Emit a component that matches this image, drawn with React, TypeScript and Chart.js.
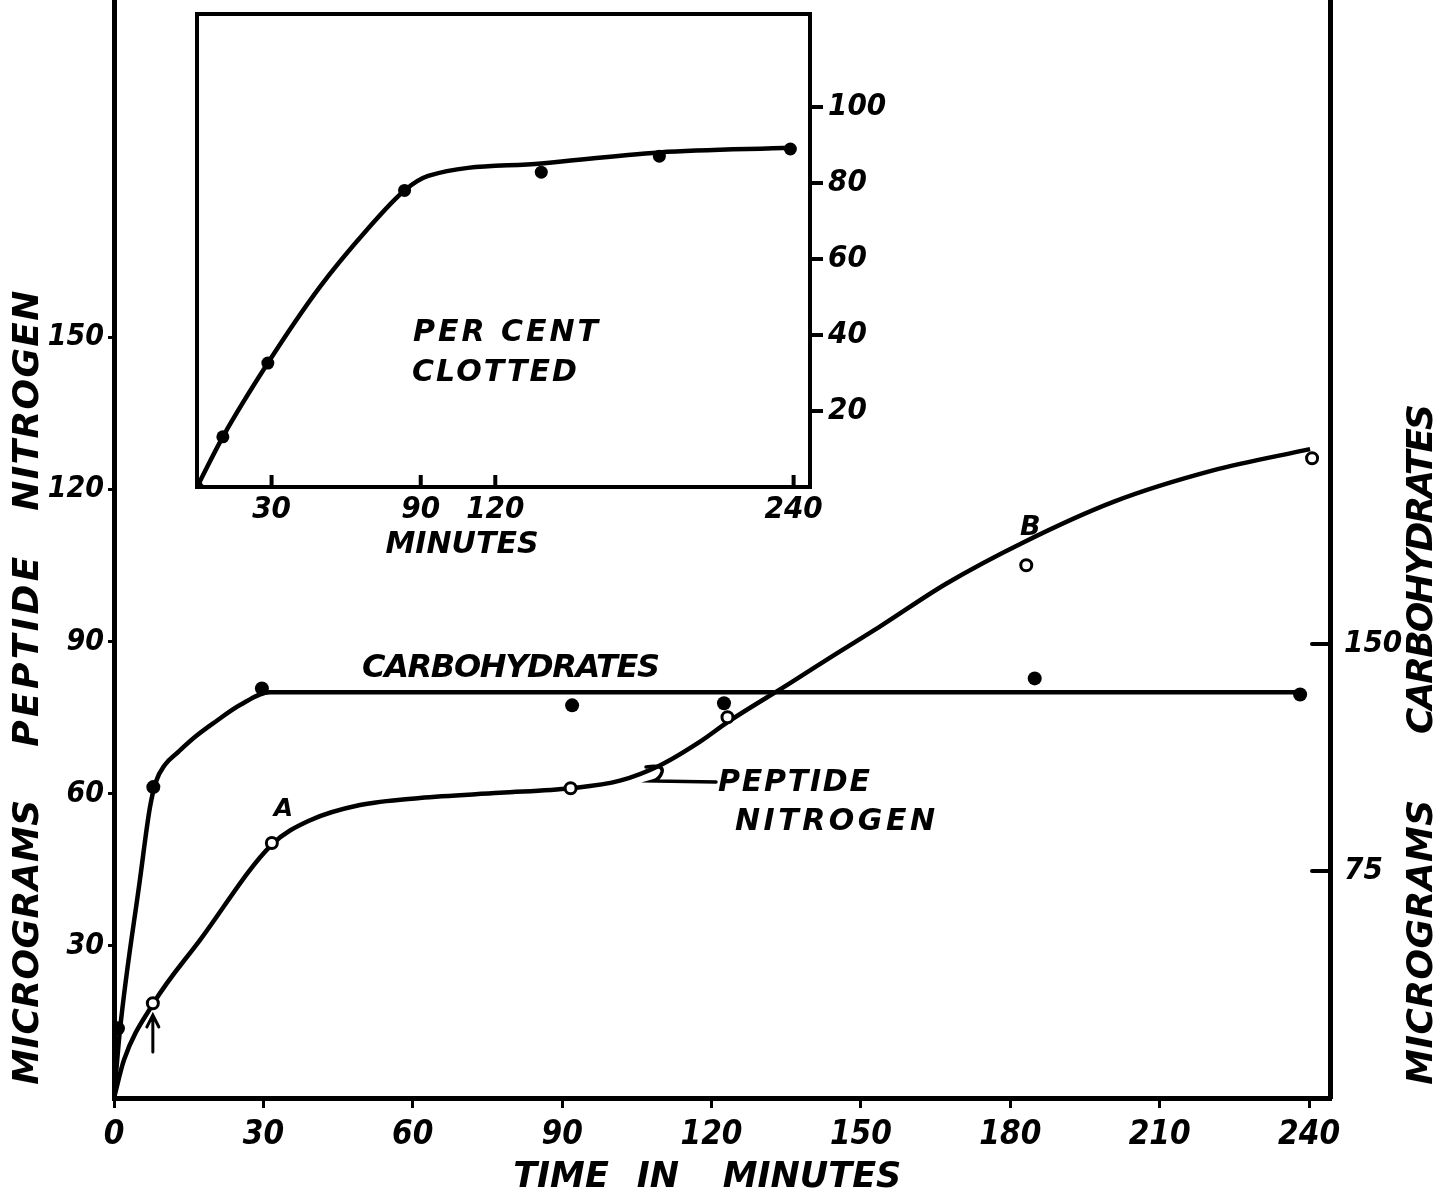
import { useEffect, useRef } from 'react';
import { Chart, registerables } from 'chart.js';

Chart.register(...registerables);

// ---------- Main chart data ----------
const timeTicks = [0, 30, 60, 90, 120, 150, 180, 210, 240];
const nitrogenTicks = [30, 60, 90, 120, 150];
const carbohydrateTicks = [75, 150];

// Peptide nitrogen (open circles), micrograms, left axis
const peptidePointTimes = [7.8, 31.7, 91.7, 123.2, 183.2, 240.6];
const peptidePointValues = [18.7, 50.3, 61.1, 75.1, 105.1, 126.2];
// Peptide nitrogen drawn curve
const peptideCurveTimes = [0, 2, 7.8, 17.3, 31.7, 39.4, 49.4, 61.4, 77.5, 91.7, 101.6, 109.6, 117.7, 123.3, 135.7, 145, 153.8, 167.2, 182.6, 200.7, 220.7, 240.2];
const peptideCurveValues = [0, 7.5, 18.5, 31.2, 50, 54.8, 57.8, 59.2, 60.2, 61.1, 62.6, 65.6, 70.3, 74.2, 81.8, 87.6, 93, 101.5, 109.6, 117.6, 123.8, 128];

// Carbohydrates (filled dots), micrograms, right axis
const carbPointTimes = [0.8, 7.9, 29.7, 92, 122.5, 184.9, 238.2];
const carbPointValues = [23, 102.7, 135.3, 129.7, 130.4, 138.6, 133.3];
// Carbohydrates drawn curve
const carbCurveTimes = [0, 1.2, 5.2, 7.2, 8.4, 10.2, 12.9, 16.3, 20.3, 25.3, 31.3, 238];
const carbCurveValues = [0, 22.5, 72, 95.8, 104.4, 110, 114.3, 119.3, 124.2, 129.8, 134, 134];

// ---------- Inset (per cent clotted) data ----------
const clotTicksX = [30, 90, 120, 240];
const clotTicksY = [20, 40, 60, 80, 100];
const clotPointTimes = [0, 10.4, 28.5, 83.5, 138.5, 186, 238.7];
const clotPointValues = [0, 13.2, 32.6, 78, 82.8, 87, 88.9];
const clotCurveTimes = [0, 10.4, 28.5, 49.3, 68.3, 83.5, 93, 138.5, 186, 239];
const clotCurveValues = [0, 13.2, 32.6, 52.5, 67.6, 78, 81.8, 85.1, 88, 89.2];

const FAMILY = "'DejaVu Sans', sans-serif";
const TICK_FAMILY = "'DejaVu Sans Condensed', 'DejaVu Sans', sans-serif";
const tickFont = (size: number) => ({ family: TICK_FAMILY, size, style: 'italic' as const, weight: 'bold' as const });

const zip = (xs: number[], ys: number[]) => xs.map((x, i) => ({ x, y: ys[i] }));

function noPad(s: any) {
  s.paddingTop = 0;
  s.paddingBottom = 0;
  s.paddingLeft = 0;
  s.paddingRight = 0;
}

function setFont(ctx: CanvasRenderingContext2D, size: number) {
  ctx.font = `italic bold ${size}px ${FAMILY}`;
}

function fitText(ctx: CanvasRenderingContext2D, text: string, size: number, width?: number) {
  setFont(ctx, size);
  (ctx as any).letterSpacing = '0px';
  if (width) {
    const w = ctx.measureText(text).width;
    const ls = (width - w) / Math.max(1, text.length - 1);
    (ctx as any).letterSpacing = `${ls}px`;
  }
}

function textLeft(ctx: CanvasRenderingContext2D, text: string, left: number, cy: number, size: number, width?: number) {
  ctx.save();
  fitText(ctx, text, size, width);
  ctx.textAlign = 'left';
  ctx.textBaseline = 'middle';
  ctx.fillText(text, left, cy);
  ctx.restore();
}

function textCenter(ctx: CanvasRenderingContext2D, text: string, cx: number, cy: number, size: number) {
  ctx.save();
  setFont(ctx, size);
  ctx.textAlign = 'center';
  ctx.textBaseline = 'middle';
  ctx.fillText(text, cx, cy);
  ctx.restore();
}

function textVertical(ctx: CanvasRenderingContext2D, text: string, cx: number, cy: number, size: number, width?: number) {
  ctx.save();
  ctx.translate(cx, cy);
  ctx.rotate(-Math.PI / 2);
  fitText(ctx, text, size, width);
  ctx.textAlign = 'center';
  ctx.textBaseline = 'middle';
  ctx.fillText(text, 0, 0);
  ctx.restore();
}

const mainDecor = {
  id: 'mainDecor',
  afterDraw(chart: any) {
    const { ctx, chartArea, scales } = chart;
    const x = scales.x;
    const y = scales.y;
    const y1 = scales.y1;
    ctx.save();
    ctx.fillStyle = '#000';
    ctx.strokeStyle = '#000';
    ctx.lineCap = 'round';

    // inward ticks on the carbohydrate axis
    ctx.lineWidth = 4;
    carbohydrateTicks.forEach((v) => {
      const py = y1.getPixelForValue(v);
      ctx.beginPath();
      ctx.moveTo(chartArea.right - 18, py);
      ctx.lineTo(chartArea.right, py);
      ctx.stroke();
    });

    // axis titles
    textVertical(ctx, 'MICROGRAMS', 29, 942, 36, 285);
    textVertical(ctx, 'PEPTIDE', 29, 650, 36, 190);
    textVertical(ctx, 'NITROGEN', 29, 400, 36, 220);
    textVertical(ctx, 'MICROGRAMS', 1423, 942, 36, 285);
    textVertical(ctx, 'CARBOHYDRATES', 1423, 570, 36, 330);
    textCenter(ctx, 'TIME', 561, 1178, 35);
    textCenter(ctx, 'IN', 658, 1178, 35);
    textCenter(ctx, 'MINUTES', 812, 1178, 35);

    // series labels
    textLeft(ctx, 'CARBOHYDRATES', 362, y1.getPixelForValue(134) - 24, 32, 298);
    textLeft(ctx, 'PEPTIDE', 718, 783, 30, 152);
    textLeft(ctx, 'NITROGEN', 735, 822, 30, 200);

    // A and B markers
    textCenter(ctx, 'A', x.getPixelForValue(34), y.getPixelForValue(50.3) - 34, 25);
    textCenter(ctx, 'B', x.getPixelForValue(184), y.getPixelForValue(105.1) - 37, 27);

    // leader for PEPTIDE NITROGEN
    ctx.lineWidth = 3.5;
    ctx.beginPath();
    ctx.moveTo(646, 767);
    ctx.quadraticCurveTo(664, 764, 662, 772);
    ctx.quadraticCurveTo(660, 779, 653, 781);
    ctx.lineTo(716, 782);
    ctx.stroke();

    // arrow under first peptide point
    const ax = x.getPixelForValue(peptidePointTimes[0]);
    ctx.lineWidth = 3;
    ctx.beginPath();
    ctx.moveTo(ax, 1052);
    ctx.lineTo(ax, 1016);
    ctx.moveTo(ax - 6, 1027);
    ctx.lineTo(ax, 1015);
    ctx.lineTo(ax + 6, 1027);
    ctx.stroke();

    ctx.restore();
  },
};

const insetDecor = {
  id: 'insetDecor',
  afterDraw(chart: any) {
    const { ctx, chartArea, scales } = chart;
    const x = scales.x;
    ctx.save();
    ctx.strokeStyle = '#000';
    ctx.fillStyle = '#000';
    ctx.lineWidth = 4;
    ctx.lineCap = 'square';
    ctx.beginPath();
    ctx.moveTo(chartArea.left, chartArea.bottom);
    ctx.lineTo(chartArea.left, chartArea.top);
    ctx.lineTo(chartArea.right, chartArea.top);
    ctx.stroke();
    ctx.lineCap = 'butt';
    clotTicksX.forEach((v) => {
      const px = x.getPixelForValue(v);
      ctx.beginPath();
      ctx.moveTo(px, chartArea.bottom);
      ctx.lineTo(px, chartArea.bottom - 12);
      ctx.stroke();
    });
    textCenter(ctx, 'MINUTES', 312, 545, 30);
    textLeft(ctx, 'PER CENT', 263, 333, 30, 185);
    textLeft(ctx, 'CLOTTED', 262, 373, 30, 165);
    ctx.restore();
  },
};

export default function App() {
  const mainRef = useRef<HTMLCanvasElement>(null);
  const insetRef = useRef<HTMLCanvasElement>(null);

  useEffect(() => {
    const lineBase = {
      showLine: true,
      borderColor: '#000',
      borderWidth: 4.5,
      pointRadius: 0,
      cubicInterpolationMode: 'monotone' as const,
      fill: false,
      order: 1,
    };
    const main = new Chart(mainRef.current!, {
      type: 'scatter',
      data: {
        datasets: [
          {
            label: 'Peptide nitrogen',
            data: zip(peptidePointTimes, peptidePointValues),
            yAxisID: 'y',
            pointRadius: 5.5,
            pointBackgroundColor: '#fff',
            pointBorderColor: '#000',
            pointBorderWidth: 3,
            order: 0,
          },
          {
            label: 'Carbohydrates',
            data: zip(carbPointTimes, carbPointValues),
            yAxisID: 'y1',
            pointRadius: 7,
            pointBackgroundColor: '#000',
            pointBorderColor: '#000',
            pointBorderWidth: 0,
            order: 0,
          },
          { ...lineBase, label: 'Peptide nitrogen curve', data: zip(peptideCurveTimes, peptideCurveValues), yAxisID: 'y' },
          { ...lineBase, label: 'Carbohydrates curve', data: zip(carbCurveTimes, carbCurveValues), yAxisID: 'y1' },
        ] as any,
      },
      options: {
        animation: false,
        responsive: false,
        devicePixelRatio: 1,
        layout: { padding: 0, autoPadding: false } as any,
        plugins: { legend: { display: false }, tooltip: { enabled: false } },
        scales: {
          x: {
            type: 'linear',
            position: 'bottom',
            min: 0,
            max: 244.2,
            afterBuildTicks: (s: any) => { s.ticks = timeTicks.map((value) => ({ value })); },
            afterFit: (s: any) => { s.height = 101; noPad(s); },
            grid: { drawOnChartArea: false, drawTicks: true, tickLength: 10, lineWidth: 3, color: '#000' },
            border: { display: true, width: 5, color: '#000' },
            ticks: { color: '#000', font: tickFont(33), padding: 8, maxRotation: 0, autoSkip: false },
          },
          y: {
            type: 'linear',
            position: 'left',
            min: 0,
            max: 216.6,
            afterBuildTicks: (s: any) => { s.ticks = nitrogenTicks.map((value) => ({ value })); },
            afterFit: (s: any) => { s.width = 114; noPad(s); },
            grid: { drawOnChartArea: false, drawTicks: true, tickLength: 6, lineWidth: 3, color: '#000' },
            border: { display: true, width: 5, color: '#000' },
            ticks: { color: '#000', font: tickFont(30), padding: 4, autoSkip: false },
          },
          y1: {
            type: 'linear',
            position: 'right',
            min: 0,
            max: 362.7,
            afterBuildTicks: (s: any) => { s.ticks = carbohydrateTicks.map((value) => ({ value })); },
            afterFit: (s: any) => { s.width = 109; noPad(s); },
            grid: { drawOnChartArea: false, drawTicks: false },
            border: { display: true, width: 5, color: '#000' },
            ticks: { color: '#000', font: tickFont(31), padding: 14, autoSkip: false },
          },
        },
      } as any,
      plugins: [mainDecor],
    });

    const inset = new Chart(insetRef.current!, {
      type: 'scatter',
      data: {
        datasets: [
          {
            label: 'Per cent clotted',
            data: zip(clotPointTimes, clotPointValues),
            pointRadius: 6.5,
            pointBackgroundColor: '#000',
            pointBorderColor: '#000',
            pointBorderWidth: 0,
            order: 0,
          },
          { ...lineBase, label: 'Per cent clotted curve', data: zip(clotCurveTimes, clotCurveValues) },
        ] as any,
      },
      options: {
        animation: false,
        responsive: false,
        devicePixelRatio: 1,
        layout: { padding: { left: 47, top: 14, right: 0, bottom: 0 }, autoPadding: false } as any,
        plugins: { legend: { display: false }, tooltip: { enabled: false } },
        scales: {
          x: {
            type: 'linear',
            position: 'bottom',
            min: 0,
            max: 246.6,
            afterBuildTicks: (s: any) => { s.ticks = clotTicksX.map((value) => ({ value })); },
            afterFit: (s: any) => { s.height = 83; noPad(s); },
            grid: { drawOnChartArea: false, drawTicks: false },
            border: { display: true, width: 4, color: '#000' },
            ticks: { color: '#000', font: tickFont(31), padding: 4, maxRotation: 0, autoSkip: false },
          },
          y: {
            type: 'linear',
            position: 'right',
            min: 0,
            max: 124.4,
            afterBuildTicks: (s: any) => { s.ticks = clotTicksY.map((value) => ({ value })); },
            afterFit: (s: any) => { s.width = 100; noPad(s); },
            grid: { drawOnChartArea: false, drawTicks: true, tickLength: 13, lineWidth: 4, color: '#000' },
            border: { display: true, width: 4, color: '#000' },
            ticks: { color: '#000', font: tickFont(31), padding: 5, autoSkip: false },
          },
        },
      } as any,
      plugins: [insetDecor],
    });

    return () => {
      main.destroy();
      inset.destroy();
    };
  }, []);

  return (
    <div style={{ position: 'fixed', left: 0, top: 0, width: 1439, height: 1199, background: '#fff', overflow: 'hidden' }}>
      <canvas ref={mainRef} width={1439} height={1199} style={{ position: 'absolute', left: 0, top: 0, width: 1439, height: 1199 }} />
      <canvas ref={insetRef} width={760} height={570} style={{ position: 'absolute', left: 150, top: 0, width: 760, height: 570 }} />
    </div>
  );
}
